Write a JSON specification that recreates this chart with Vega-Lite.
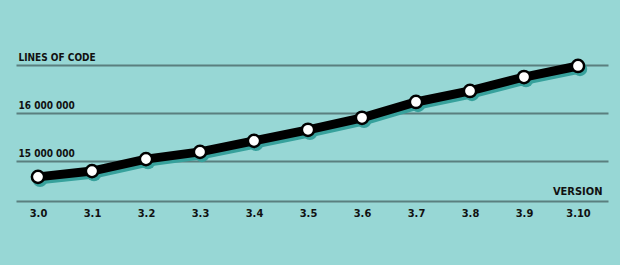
{
  "$schema": "https://vega.github.io/schema/vega-lite/v6.json",
  "autosize": {"type": "none"},
  "width": 592,
  "height": 191,
  "padding": {"left": 16, "top": 10, "right": 12, "bottom": 64},
  "background": "#97d7d5",
  "config": {
    "view": {"stroke": null},
    "font": "DejaVu Sans Condensed"
  },
  "data": {
    "values": [
      {"version": "3.0", "lines": 14670000},
      {"version": "3.1", "lines": 14790000},
      {"version": "3.2", "lines": 15040000},
      {"version": "3.3", "lines": 15190000},
      {"version": "3.4", "lines": 15420000},
      {"version": "3.5", "lines": 15650000},
      {"version": "3.6", "lines": 15900000},
      {"version": "3.7", "lines": 16230000},
      {"version": "3.8", "lines": 16460000},
      {"version": "3.9", "lines": 16750000},
      {"version": "3.10", "lines": 16980000}
    ]
  },
  "encoding": {
    "x": {
      "field": "version",
      "type": "ordinal",
      "sort": null,
      "scale": {"type": "point", "padding": 0.4815, "align": 0.423},
      "axis": {
        "title": "VERSION",
        "titleFont": "DejaVu Sans Condensed",
        "titleFontSize": 11,
        "titleFontWeight": "bold",
        "titleColor": "#111111",
        "titleAnchor": "end",
        "titleAlign": "right",
        "titleBaseline": "bottom",
        "titleX": 586,
        "titleY": -5,
        "labelAngle": 0,
        "labelFont": "DejaVu Sans Condensed",
        "labelFontSize": 11,
        "labelFontWeight": "bold",
        "labelColor": "#111111",
        "labelPadding": 6,
        "ticks": false,
        "domainColor": "#5a7f7f",
        "domainWidth": 2,
        "grid": false
      }
    },
    "y": {
      "field": "lines",
      "type": "quantitative",
      "scale": {"domain": [14167000, 18146000], "nice": false, "zero": false},
      "axis": {
        "title": null,
        "values": [15000000, 16000000, 17000000],
        "labelExpr": "datum.value == 17000000 ? 'LINES OF CODE' : (datum.value == 16000000 ? '16 000 000' : '15 000 000')",
        "labelAlign": "left",
        "labelBaseline": "bottom",
        "labelPadding": -2,
        "labelOffset": -3,
        "labelFont": "DejaVu Sans Condensed",
        "labelFontSize": 10,
        "labelFontWeight": "bold",
        "labelColor": "#111111",
        "ticks": false,
        "domain": false,
        "grid": true,
        "gridColor": "#5a7f7f",
        "gridWidth": 2,
        "gridOpacity": 1
      }
    }
  },
  "layer": [
    {"mark": {"type": "line", "color": "#37a19c", "strokeWidth": 9, "xOffset": 2, "yOffset": 3}},
    {"mark": {"type": "point", "shape": "circle", "filled": true, "color": "#37a19c", "opacity": 1, "size": 210, "xOffset": 2, "yOffset": 3}},
    {"mark": {"type": "line", "color": "#000000", "strokeWidth": 9}},
    {"mark": {"type": "point", "shape": "circle", "filled": true, "fill": "#ffffff", "stroke": "#000000", "strokeWidth": 2.5, "opacity": 1, "size": 150}}
  ]
}
